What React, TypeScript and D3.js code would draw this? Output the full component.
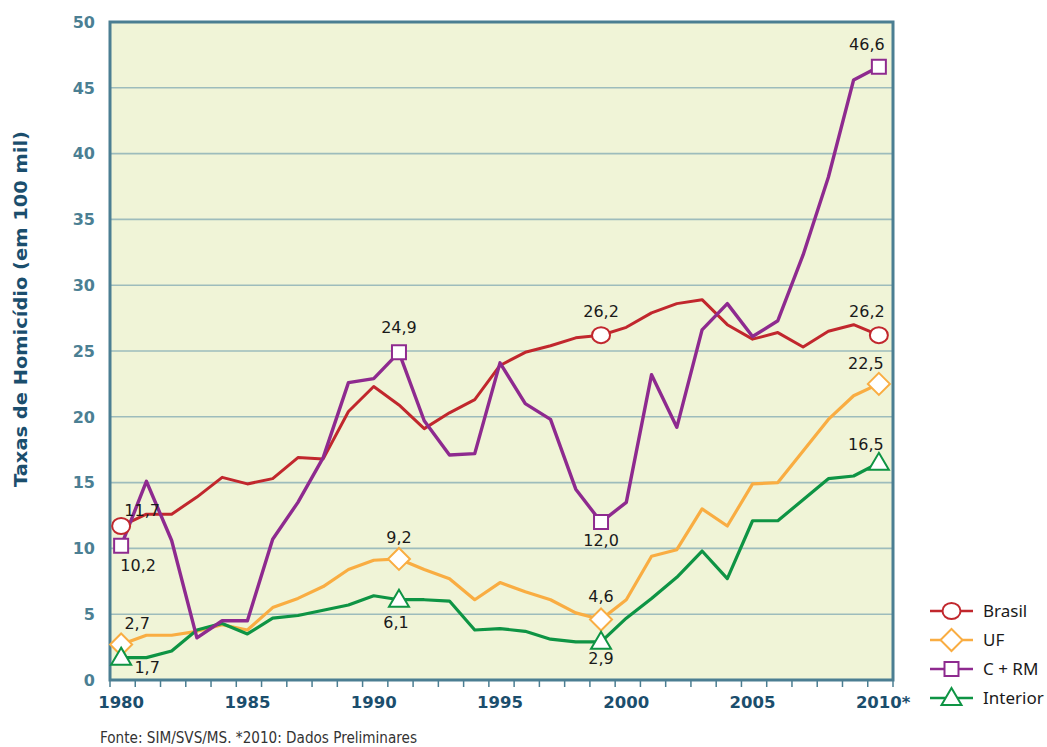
import React, { useEffect, useRef } from "react";
import * as d3 from "d3";

// anos e taxas (por 100 mil hab.)
const years = [
  1980, 1981, 1982, 1983, 1984, 1985, 1986, 1987, 1988, 1989, 1990, 1991, 1992,
  1993, 1994, 1995, 1996, 1997, 1998, 1999, 2000, 2001, 2002, 2003, 2004, 2005,
  2006, 2007, 2008, 2009, 2010,
];
const brasil = [
  11.7, 12.6, 12.6, 13.9, 15.4, 14.9, 15.3, 16.9, 16.8, 20.4, 22.3, 20.9, 19.1,
  20.3, 21.3, 23.9, 24.9, 25.4, 26.0, 26.2, 26.8, 27.9, 28.6, 28.9, 27.0, 25.9,
  26.4, 25.3, 26.5, 27.0, 26.2,
];
const uf = [
  2.7, 3.4, 3.4, 3.7, 4.2, 3.8, 5.5, 6.2, 7.1, 8.4, 9.1, 9.2, 8.4, 7.7, 6.1, 7.4,
  6.7, 6.1, 5.1, 4.6, 6.1, 9.4, 9.9, 13.0, 11.7, 14.9, 15.0, 17.4, 19.8, 21.6,
  22.5,
];
const capitalRM = [
  10.2, 15.1, 10.6, 3.2, 4.5, 4.5, 10.7, 13.5, 16.9, 22.6, 22.9, 24.9, 19.7,
  17.1, 17.2, 24.1, 21.0, 19.8, 14.5, 12.0, 13.5, 23.2, 19.2, 26.6, 28.6, 26.1,
  27.3, 32.3, 38.2, 45.6, 46.6,
];
const interior = [
  1.7, 1.7, 2.2, 3.8, 4.3, 3.5, 4.7, 4.9, 5.3, 5.7, 6.4, 6.1, 6.1, 6.0, 3.8, 3.9,
  3.7, 3.1, 2.9, 2.9, 4.7, 6.2, 7.8, 9.8, 7.7, 12.1, 12.1, 13.7, 15.3, 15.5,
  16.5,
];
const yTicks = [0, 5, 10, 15, 20, 25, 30, 35, 40, 45, 50];
const xLabelYears = [1980, 1985, 1990, 1995, 2000, 2005, 2010];

type Series = {
  name: string;
  values: number[];
  color: string;
  width: number;
  shape: "circle" | "diamond" | "square" | "triangle";
  marks: number[];
  // label offsets (dx, dy) per marked year
  offs: [number, number][];
};

const series: Series[] = [
  {
    name: "Brasil",
    values: brasil,
    color: "#c1272d",
    width: 3,
    shape: "circle",
    marks: [1980, 1999, 2010],
    offs: [[21, -16], [0, -24], [-12, -24]],
  },
  {
    name: "UF",
    values: uf,
    color: "#f9ad42",
    width: 3.2,
    shape: "diamond",
    marks: [1980, 1991, 1999, 2010],
    offs: [[16, -21], [0, -22], [0, -23], [-13, -21]],
  },
  {
    name: "C + RM",
    values: capitalRM,
    color: "#8e2a8f",
    width: 3.4,
    shape: "square",
    marks: [1980, 1991, 1999, 2010],
    offs: [[17, 19], [0, -25], [0, 18], [-12, -23]],
  },
  {
    name: "Interior",
    values: interior,
    color: "#0e9444",
    width: 3.2,
    shape: "triangle",
    marks: [1980, 1991, 1999, 2010],
    offs: [[26, 10], [-3, 23], [0, 16], [-13, -19]],
  },
];

const drawOrder = ["Brasil", "UF", "Interior", "C + RM"];

function markerPath(shape: string) {
  switch (shape) {
    case "circle":
      return "M-9,0a9,8 0 1,0 18,0a9,8 0 1,0 -18,0Z";
    case "diamond":
      return "M0,-11L11,0L0,11L-11,0Z";
    case "square":
      return "M-7,-7H7V7H-7Z";
    default:
      return "M0,-10L10,7H-10Z";
  }
}

export default function App() {
  const ref = useRef<SVGSVGElement>(null);

  useEffect(() => {
    if (!ref.current) return;
    const svg = d3.select(ref.current);
    svg.selectAll("*").remove();

    const left = 110,
      right = 893,
      top = 22,
      bottom = 680;

    const x = d3
      .scaleBand<number>()
      .domain(years)
      .range([left, right]);
    const cx = (yr: number) => (x(yr) ?? 0) + x.bandwidth() / 2 - 1.5;
    const y = d3.scaleLinear().domain([0, 50]).range([bottom, top]);

    // plot background
    svg
      .append("rect")
      .attr("x", left)
      .attr("y", top)
      .attr("width", right - left)
      .attr("height", bottom - top)
      .attr("fill", "#f0f4d7");

    // gridlines
    svg
      .append("g")
      .selectAll("line")
      .data(yTicks.filter((t) => t > 0 && t < 50))
      .enter()
      .append("line")
      .attr("x1", left)
      .attr("x2", right)
      .attr("y1", (d) => y(d))
      .attr("y2", (d) => y(d))
      .attr("stroke", "#9dbcbc")
      .attr("stroke-width", 1.6);

    // frame
    svg
      .append("rect")
      .attr("x", left)
      .attr("y", top)
      .attr("width", right - left)
      .attr("height", bottom - top)
      .attr("fill", "none")
      .attr("stroke", "#4b7e92")
      .attr("stroke-width", 3);

    // x ticks at band boundaries
    const bounds = years.map((yr) => x(yr) ?? 0).concat([right]);
    svg
      .append("g")
      .selectAll("line")
      .data(bounds)
      .enter()
      .append("line")
      .attr("x1", (d) => d)
      .attr("x2", (d) => d)
      .attr("y1", bottom)
      .attr("y2", bottom + 7)
      .attr("stroke", "#4b7e92")
      .attr("stroke-width", 1.5);

    // y tick labels
    svg
      .append("g")
      .selectAll("text")
      .data(yTicks)
      .enter()
      .append("text")
      .attr("x", 95)
      .attr("y", (d) => y(d))
      .attr("dy", "0.36em")
      .attr("text-anchor", "end")
      .attr("font-family", "DejaVu Sans")
      .attr("font-weight", "bold")
      .attr("font-size", 16)
      .attr("fill", "#4b7f93")
      .text((d) => d);

    // x tick labels
    svg
      .append("g")
      .selectAll("text")
      .data(xLabelYears)
      .enter()
      .append("text")
      .attr("x", (d) => cx(d))
      .attr("y", 702)
      .attr("dy", "0.36em")
      .attr("text-anchor", "middle")
      .attr("font-family", "DejaVu Sans")
      .attr("font-weight", "bold")
      .attr("font-size", 16.5)
      .attr("fill", "#1b4e6d")
      .text((d) => d);
    svg
      .append("text")
      .attr("x", cx(2010) + 23)
      .attr("y", 702)
      .attr("dy", "0.36em")
      .attr("font-family", "DejaVu Sans")
      .attr("font-weight", "bold")
      .attr("font-size", 16.5)
      .attr("fill", "#1b4e6d")
      .text("*");

    // y title
    svg
      .append("text")
      .attr("transform", `translate(21,${(top + bottom) / 2 - 42}) rotate(-90)`)
      .attr("dy", "0.36em")
      .attr("text-anchor", "middle")
      .attr("font-family", "DejaVu Sans")
      .attr("font-weight", "bold")
      .attr("font-size", 18)
      .attr("textLength", 356)
      .attr("lengthAdjust", "spacingAndGlyphs")
      .attr("fill", "#1b4e6d")
      .text("Taxas de Homicídio (em 100 mil)");

    const line = d3
      .line<number>()
      .x((_, i) => cx(years[i]))
      .y((d) => y(d));

    drawOrder.forEach((nm) => {
      const s = series.find((z) => z.name === nm)!;
      svg
        .append("path")
        .attr("d", line(s.values))
        .attr("fill", "none")
        .attr("stroke", s.color)
        .attr("stroke-width", s.width)
        .attr("stroke-linejoin", "round");
    });

    // markers and value labels
    series.forEach((s) => {
      s.marks.forEach((yr, k) => {
        const i = years.indexOf(yr);
        const px = cx(yr),
          py = y(s.values[i]);
        svg
          .append("path")
          .attr("d", markerPath(s.shape))
          .attr("transform", `translate(${px},${py})`)
          .attr("fill", "#fff")
          .attr("stroke", s.color)
          .attr("stroke-width", 2);
        const [dx, dy] = s.offs[k];
        svg
          .append("text")
          .attr("x", px + dx)
          .attr("y", py + dy)
          .attr("dy", "0.36em")
          .attr("text-anchor", "middle")
          .attr("font-family", "DejaVu Sans")
          .attr("font-size", 16)
          .attr("fill", "#1a1a1a")
          .text(d3.format(".1f")(s.values[i]).replace(".", ","));
      });
    });

    // legend
    const lg = svg
      .append("g")
      .selectAll("g")
      .data(series)
      .enter()
      .append("g")
      .attr("transform", (_, i) => `translate(930,${[611, 640, 669, 698][i]})`);
    lg.append("line")
      .attr("x1", 0)
      .attr("x2", 43)
      .attr("stroke", (d) => d.color)
      .attr("stroke-width", 2.5);
    lg.append("path")
      .attr("d", (d) => markerPath(d.shape))
      .attr("transform", "translate(21.5,0)")
      .attr("fill", "#fff")
      .attr("stroke", (d) => d.color)
      .attr("stroke-width", 2);
    lg.append("text")
      .attr("x", 53)
      .attr("dy", "0.36em")
      .attr("font-family", "Noto Sans")
      .attr("font-size", 17)
      .attr("fill", "#1a1a1a")
      .text((d) => d.name);

    // source note
    svg
      .append("text")
      .attr("x", 100)
      .attr("y", 737)
      .attr("dy", "0.36em")
      .attr("font-family", "DejaVu Sans Condensed, DejaVu Sans")
      .attr("font-stretch", "condensed")
      .attr("font-size", 16)
      .attr("textLength", 317)
      .attr("lengthAdjust", "spacingAndGlyphs")
      .attr("fill", "#333")
      .text("Fonte: SIM/SVS/MS. *2010: Dados Preliminares");
  }, []);

  return (
    <svg
      ref={ref}
      width={1047}
      height={747}
      style={{ position: "absolute", left: 0, top: 0, background: "#fff" }}
    />
  );
}
